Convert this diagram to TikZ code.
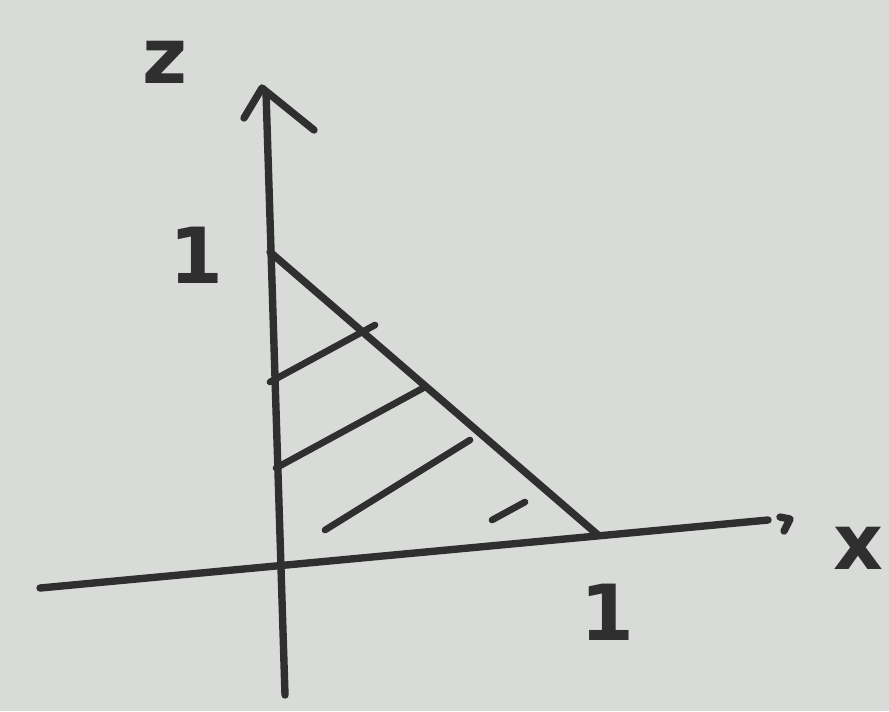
\documentclass[tikz,border=0pt]{standalone}
\usepackage{fontspec}
\setmainfont{DejaVu Sans}
\definecolor{paper}{HTML}{D8DBD8}
\definecolor{ink}{HTML}{2E2F2E}
\begin{document}
\begin{tikzpicture}[x=0.01cm,y=-0.01cm,
  pen/.style={draw=ink,line width=2.1pt,line cap=round,line join=round},
  hatch/.style={draw=ink,line width=1.9pt,line cap=round},
  lab/.style={text=ink,font=\fontsize{22}{24}\selectfont\bfseries,inner sep=0pt}]
\fill[paper] (0,0) rectangle (889,711);
\useasboundingbox (0,0) rectangle (889,711);
% axes
\coordinate (xl) at (40,588);
\coordinate (xr) at (768,520);
\coordinate (zb) at (285,695);
\coordinate (zt) at (266,92);
\draw[pen] (xl) -- (xr);
\draw[pen] (780,517) -- (790,519) -- (784,531);
\draw[pen] (zb) -- (zt);
\draw[pen] (244,118) -- (262,88) -- (314,130);
% labels
\node[lab] (z) at (165,62) {z};
\node[lab] (x) at (858,548) {x};
\node[lab] (one z) at (196,255) {1};
\node[lab] (one x) at (607,612) {1};
% triangle hypotenuse
\coordinate (a) at (270,252);
\coordinate (b) at (598,535);
\draw[pen] (a) -- (b);
% hatching
\draw[hatch] (270,382) -- (375,325);
\draw[hatch] (276,468) -- (425,387);
\draw[hatch] (325,530) -- (470,440);
\draw[hatch] (492,520) -- (525,502);
\end{tikzpicture}
\end{document}
